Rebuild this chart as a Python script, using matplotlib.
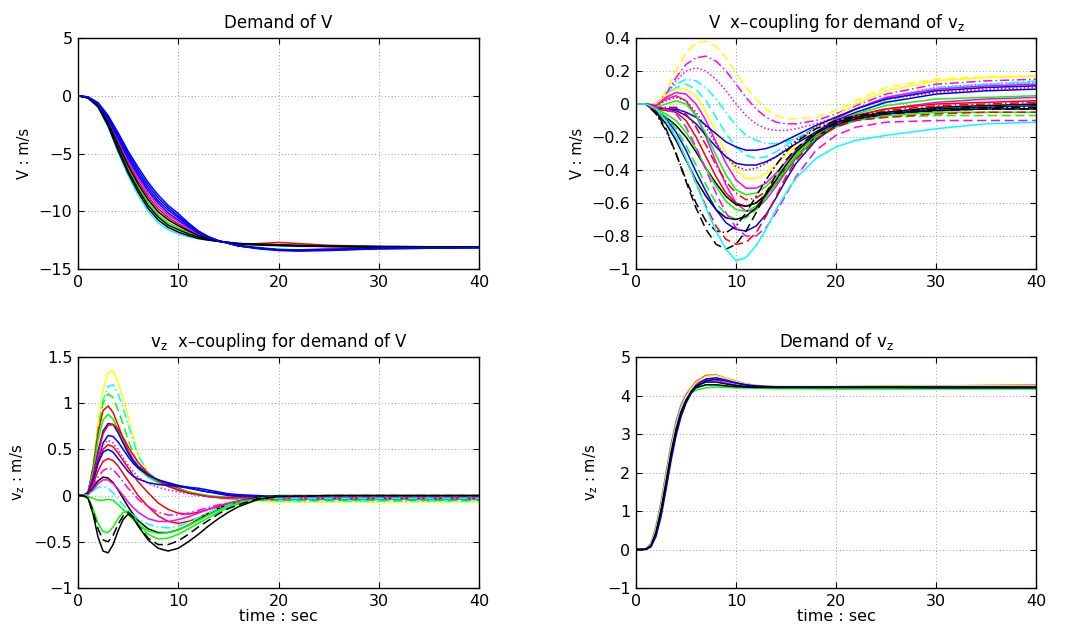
import matplotlib
matplotlib.use("Agg")
import matplotlib.pyplot as plt

plt.rcParams['font.family'] = ['DejaVu Sans']

# ---------------- Panel 1: Demand of V ----------------
t_v = [0, 1, 2, 3, 4, 5, 6, 7, 8, 9, 10, 11, 12, 13, 14, 16, 18, 20, 22, 25, 30, 40]
v_curves = [
    [0, -0.2, -1.0, -2.7, -4.9, -6.9, -8.6, -10.0, -11.0, -11.6, -11.95, -12.2, -12.4, -12.5, -12.6, -12.75, -12.85, -12.9, -12.95, -13.0, -13.05, -13.1],
    [0, -0.18, -0.88, -2.4, -4.4, -6.3, -7.9, -9.25, -10.3, -11.0, -11.45, -11.85, -12.2, -12.4, -12.6, -12.85, -12.95, -13.0, -13.05, -13.05, -13.1, -13.1],
    [0, -0.15, -0.8, -2.2, -4.05, -5.85, -7.4, -8.75, -9.8, -10.55, -11.1, -11.6, -12.05, -12.35, -12.6, -12.9, -12.8, -12.7, -12.8, -12.95, -13.05, -13.1],
    [0, -0.14, -0.76, -2.1, -3.9, -5.65, -7.15, -8.5, -9.55, -10.35, -10.9, -11.5, -12.0, -12.3, -12.55, -13.0, -13.2, -13.35, -13.35, -13.25, -13.15, -13.1],
    [0, -0.2, -0.96, -2.6, -4.75, -6.7, -8.35, -9.75, -10.75, -11.4, -11.8, -12.1, -12.35, -12.5, -12.6, -12.8, -12.9, -12.95, -13.0, -13.05, -13.1, -13.1],
    [0, -0.18, -0.92, -2.5, -4.55, -6.5, -8.1, -9.5, -10.5, -11.2, -11.6, -11.95, -12.25, -12.45, -12.6, -12.8, -12.85, -12.9, -12.95, -13.0, -13.05, -13.1],
    [0, -0.16, -0.84, -2.3, -4.2, -6.05, -7.65, -9.0, -10.05, -10.75, -11.25, -11.7, -12.1, -12.4, -12.6, -12.85, -12.9, -12.95, -13.0, -13.05, -13.1, -13.1],
    [0, -0.13, -0.72, -2.0, -3.7, -5.45, -6.9, -8.25, -9.3, -10.15, -10.75, -11.35, -11.9, -12.3, -12.55, -12.95, -13.15, -13.3, -13.35, -13.3, -13.2, -13.15],
    [0, -0.12, -0.68, -1.9, -3.55, -5.2, -6.7, -8.0, -9.1, -9.9, -10.55, -11.25, -11.85, -12.25, -12.55, -13.0, -13.2, -13.35, -13.4, -13.35, -13.2, -13.15],
    [0, -0.11, -0.64, -1.8, -3.35, -5.0, -6.45, -7.75, -8.85, -9.7, -10.4, -11.1, -11.75, -12.2, -12.55, -13.0, -13.2, -13.35, -13.4, -13.35, -13.25, -13.15],
    [0, -0.1, -0.6, -1.7, -3.2, -4.8, -6.2, -7.5, -8.6, -9.5, -10.2, -11.0, -11.7, -12.2, -12.55, -13.0, -13.25, -13.4, -13.45, -13.4, -13.25, -13.15],
]
v_colors = ['c', 'g', 'r', 'm', 'k', 'k', 'k', 'b', 'b', 'b', 'b']
v_styles = ['-', '-', '-', '-', '-', '-', '-', '-', '-', '-', '-']

# ---------------- Panel 2: V x-coupling for demand of vz ----------------
t_vx = [0, 1, 2, 3, 4, 5, 6, 7, 8, 9, 10, 11, 12, 13, 14, 15, 16, 18, 20, 22, 25, 30, 35, 40]
vx_curves = [
    [0, 0, 0.0, 0.08, 0.2, 0.31, 0.37, 0.38, 0.35, 0.28, 0.19, 0.1, 0.03, -0.03, -0.07, -0.09, -0.09, -0.08, -0.04, 0.02, 0.1, 0.15, 0.165, 0.17],
    [0, 0, 0.0, 0.06, 0.16, 0.24, 0.28, 0.29, 0.26, 0.2, 0.12, 0.04, -0.03, -0.08, -0.11, -0.12, -0.12, -0.1, -0.06, -0.01, 0.06, 0.12, 0.14, 0.15],
    [0, 0, 0.0, 0.05, 0.14, 0.2, 0.22, 0.2, 0.15, 0.08, 0.0, -0.07, -0.12, -0.15, -0.16, -0.16, -0.15, -0.12, -0.08, -0.03, 0.04, 0.1, 0.12, 0.13],
    [0, 0, 0.0, 0.05, 0.12, 0.15, 0.14, 0.1, 0.03, -0.05, -0.13, -0.19, -0.22, -0.24, -0.24, -0.23, -0.21, -0.17, -0.12, -0.06, 0.02, 0.09, 0.12, 0.14],
    [0, 0, 0.0, 0.04, 0.1, 0.12, 0.09, 0.02, -0.08, -0.18, -0.26, -0.31, -0.33, -0.32, -0.29, -0.25, -0.21, -0.14, -0.08, -0.03, 0.04, 0.1, 0.12, 0.13],
    [0, 0, 0.0, 0.05, 0.09, 0.09, 0.05, -0.05, -0.17, -0.3, -0.4, -0.45, -0.45, -0.42, -0.37, -0.31, -0.25, -0.15, -0.07, 0.0, 0.08, 0.14, 0.16, 0.17],
    [0, 0, -0.01, 0.04, 0.07, 0.06, 0.0, -0.1, -0.23, -0.36, -0.46, -0.51, -0.51, -0.48, -0.42, -0.35, -0.28, -0.17, -0.09, -0.03, 0.04, 0.09, 0.11, 0.12],
    [0, 0, -0.01, 0.03, 0.05, 0.02, -0.07, -0.2, -0.35, -0.49, -0.6, -0.65, -0.64, -0.58, -0.5, -0.41, -0.33, -0.2, -0.12, -0.07, -0.03, 0.01, 0.03, 0.04],
    [0, 0, -0.01, 0.02, 0.04, 0.02, -0.05, -0.14, -0.24, -0.32, -0.38, -0.4, -0.39, -0.36, -0.32, -0.27, -0.22, -0.14, -0.08, -0.03, 0.03, 0.07, 0.09, 0.1],
    [0, 0, -0.02, -0.03, -0.03, -0.05, -0.08, -0.13, -0.18, -0.23, -0.26, -0.28, -0.28, -0.27, -0.25, -0.22, -0.19, -0.13, -0.08, -0.03, 0.03, 0.08, 0.1, 0.11],
    [0, 0, -0.02, -0.03, -0.04, -0.07, -0.12, -0.19, -0.26, -0.32, -0.36, -0.37, -0.37, -0.35, -0.32, -0.28, -0.24, -0.17, -0.1, -0.05, 0.01, 0.06, 0.08, 0.09],
    [0, 0, -0.02, 0.0, 0.02, 0.0, -0.07, -0.18, -0.31, -0.43, -0.52, -0.55, -0.54, -0.5, -0.44, -0.37, -0.3, -0.19, -0.11, -0.06, -0.01, 0.03, 0.04, 0.05],
    [0, 0, -0.02, -0.02, -0.02, -0.06, -0.14, -0.25, -0.37, -0.47, -0.54, -0.58, -0.57, -0.53, -0.46, -0.39, -0.32, -0.21, -0.13, -0.08, -0.04, -0.01, 0.0, 0.01],
    [0, 0, -0.03, -0.04, -0.05, -0.1, -0.2, -0.32, -0.44, -0.54, -0.6, -0.62, -0.6, -0.55, -0.48, -0.4, -0.32, -0.2, -0.12, -0.07, -0.03, 0.0, 0.01, 0.02],
    [0, 0, -0.04, -0.08, -0.13, -0.2, -0.29, -0.39, -0.48, -0.56, -0.61, -0.62, -0.6, -0.55, -0.48, -0.4, -0.32, -0.2, -0.13, -0.09, -0.06, -0.04, -0.03, -0.03],
    [0, 0, -0.03, -0.06, -0.1, -0.17, -0.27, -0.39, -0.5, -0.59, -0.64, -0.65, -0.62, -0.56, -0.48, -0.4, -0.32, -0.21, -0.14, -0.1, -0.07, -0.05, -0.05, -0.05],
    [0, 0, -0.03, -0.08, -0.15, -0.25, -0.37, -0.49, -0.6, -0.67, -0.7, -0.69, -0.64, -0.57, -0.48, -0.39, -0.31, -0.2, -0.13, -0.1, -0.08, -0.07, -0.07, -0.07],
    [0, 0, -0.05, -0.12, -0.22, -0.34, -0.46, -0.56, -0.64, -0.69, -0.7, -0.68, -0.63, -0.55, -0.46, -0.37, -0.29, -0.18, -0.11, -0.08, -0.05, -0.02, -0.01, 0.0],
    [0, 0, -0.04, -0.09, -0.17, -0.28, -0.41, -0.53, -0.64, -0.72, -0.76, -0.77, -0.74, -0.67, -0.57, -0.46, -0.36, -0.22, -0.13, -0.09, -0.06, -0.03, -0.02, -0.01],
    [0, 0, -0.06, -0.16, -0.3, -0.46, -0.6, -0.71, -0.77, -0.78, -0.74, -0.66, -0.56, -0.46, -0.37, -0.29, -0.23, -0.15, -0.1, -0.07, -0.05, -0.03, -0.02, -0.02],
    [0, 0, -0.05, -0.15, -0.3, -0.47, -0.63, -0.76, -0.85, -0.88, -0.85, -0.77, -0.66, -0.54, -0.43, -0.34, -0.27, -0.17, -0.12, -0.09, -0.06, -0.04, -0.03, -0.03],
    [0, 0, -0.04, -0.1, -0.2, -0.33, -0.48, -0.62, -0.74, -0.82, -0.85, -0.84, -0.78, -0.68, -0.56, -0.44, -0.34, -0.21, -0.14, -0.1, -0.08, -0.06, -0.05, -0.05],
    [0, 0, -0.02, -0.03, -0.06, -0.14, -0.26, -0.4, -0.54, -0.66, -0.75, -0.8, -0.8, -0.75, -0.66, -0.55, -0.44, -0.28, -0.19, -0.14, -0.11, -0.1, -0.1, -0.1],
    [0, 0, -0.03, -0.1, -0.2, -0.33, -0.48, -0.63, -0.77, -0.88, -0.95, -0.93, -0.86, -0.76, -0.64, -0.54, -0.45, -0.33, -0.26, -0.22, -0.19, -0.15, -0.12, -0.11],
]
vx_colors = ['y', 'm', 'm', 'c', 'c', 'y', 'm', 'm', 'r', 'b', 'b', 'g', 'r', 'r', 'k', 'g', 'g', 'k', 'b', 'k', 'k', 'r', 'm', 'c']
vx_styles = ['--', '-.', ':', '-.', '--', '-', '-', '-', ':', '-', '-', '-', '-.', '-', '-', '-', '--', '-', '-', '-.', '--', '--', '--', '-']

# ---------------- Panel 3: vz x-coupling for demand of V ----------------
t_vzx = [0, 0.5, 1, 1.5, 2, 2.5, 3, 3.5, 4, 4.5, 5, 5.5, 6, 7, 8, 9, 10, 11, 12, 13, 14, 15, 16, 18, 20, 25, 30, 40]
vzx_curves = [
    [0, 0, 0.03, 0.3, 0.78, 1.15, 1.33, 1.35, 1.22, 1.05, 0.85, 0.65, 0.45, 0.25, 0.16, 0.1, 0.06, 0.03, 0.01, -0.01, -0.03, -0.04, -0.05, -0.06, -0.07, -0.07, -0.07, -0.07],
    [0, 0, 0.03, 0.27, 0.7, 1.03, 1.18, 1.2, 1.1, 0.95, 0.77, 0.6, 0.43, 0.25, 0.16, 0.1, 0.06, 0.03, 0.01, -0.01, -0.02, -0.03, -0.04, -0.05, -0.06, -0.06, -0.06, -0.06],
    [0, 0, 0.03, 0.3, 0.72, 1.0, 1.1, 1.06, 0.93, 0.77, 0.6, 0.46, 0.35, 0.22, 0.15, 0.1, 0.06, 0.03, 0.01, -0.01, -0.02, -0.03, -0.04, -0.05, -0.05, -0.05, -0.05, -0.05],
    [0, 0, 0.04, 0.3, 0.68, 0.92, 0.97, 0.9, 0.76, 0.62, 0.49, 0.39, 0.32, 0.23, 0.17, 0.12, 0.08, 0.04, 0.01, -0.01, -0.02, -0.03, -0.03, -0.04, -0.04, -0.04, -0.04, -0.04],
    [0, 0, 0.03, 0.25, 0.6, 0.82, 0.88, 0.83, 0.71, 0.58, 0.46, 0.36, 0.29, 0.2, 0.14, 0.1, 0.07, 0.04, 0.02, 0.0, -0.01, -0.02, -0.03, -0.04, -0.04, -0.04, -0.04, -0.04],
    [0, 0, 0.03, 0.2, 0.48, 0.7, 0.78, 0.77, 0.68, 0.57, 0.46, 0.38, 0.31, 0.22, 0.17, 0.14, 0.11, 0.09, 0.06, 0.04, 0.02, 0.0, -0.01, -0.02, -0.03, -0.03, -0.03, -0.03],
    [0, 0, 0.02, 0.18, 0.45, 0.67, 0.76, 0.77, 0.72, 0.63, 0.53, 0.44, 0.36, 0.24, 0.16, 0.1, 0.06, 0.03, 0.01, -0.01, -0.02, -0.02, -0.02, -0.02, -0.02, -0.02, -0.02, -0.02],
    [0, 0, 0.02, 0.15, 0.38, 0.57, 0.65, 0.64, 0.58, 0.5, 0.42, 0.35, 0.3, 0.22, 0.17, 0.13, 0.1, 0.08, 0.06, 0.04, 0.03, 0.01, 0.0, -0.01, -0.02, -0.02, -0.02, -0.02],
    [0, 0, 0.03, 0.18, 0.4, 0.55, 0.6, 0.57, 0.5, 0.41, 0.33, 0.26, 0.2, 0.13, 0.09, 0.06, 0.04, 0.02, 0.0, -0.01, -0.02, -0.03, -0.03, -0.04, -0.04, -0.04, -0.04, -0.04],
    [0, 0, 0.02, 0.15, 0.35, 0.5, 0.55, 0.53, 0.46, 0.38, 0.3, 0.22, 0.15, 0.03, -0.08, -0.15, -0.19, -0.2, -0.18, -0.15, -0.12, -0.09, -0.07, -0.04, -0.03, -0.02, -0.02, -0.02],
    [0, 0, 0.03, 0.16, 0.35, 0.47, 0.5, 0.47, 0.4, 0.33, 0.26, 0.21, 0.18, 0.14, 0.12, 0.11, 0.1, 0.09, 0.08, 0.06, 0.04, 0.02, 0.01, 0.0, -0.01, -0.01, -0.01, -0.01],
    [0, 0, 0.02, 0.12, 0.27, 0.37, 0.4, 0.38, 0.32, 0.24, 0.16, 0.08, 0.0, -0.12, -0.22, -0.28, -0.3, -0.28, -0.24, -0.19, -0.14, -0.1, -0.07, -0.04, -0.03, -0.02, -0.01, 0.0],
    [0, 0, 0.02, 0.1, 0.2, 0.27, 0.3, 0.28, 0.22, 0.15, 0.08, 0.02, -0.04, -0.12, -0.18, -0.21, -0.21, -0.19, -0.16, -0.13, -0.1, -0.08, -0.06, -0.04, -0.03, -0.02, -0.02, -0.02],
    [0, 0, 0.02, 0.08, 0.16, 0.2, 0.19, 0.14, 0.06, -0.03, -0.12, -0.2, -0.27, -0.36, -0.4, -0.4, -0.37, -0.32, -0.26, -0.2, -0.14, -0.1, -0.06, -0.02, 0.0, 0.0, 0.0, 0.0],
    [0, 0, 0.01, 0.06, 0.13, 0.17, 0.17, 0.13, 0.07, 0.0, -0.07, -0.13, -0.18, -0.25, -0.28, -0.28, -0.26, -0.23, -0.19, -0.15, -0.11, -0.08, -0.06, -0.03, -0.02, -0.02, -0.02, -0.02],
    [0, 0, 0.01, 0.05, 0.09, 0.1, 0.08, 0.03, -0.04, -0.1, -0.16, -0.21, -0.25, -0.31, -0.34, -0.35, -0.33, -0.29, -0.24, -0.19, -0.14, -0.1, -0.07, -0.04, -0.03, -0.03, -0.03, -0.03],
    [0, 0, -0.01, -0.03, -0.05, -0.05, -0.04, -0.05, -0.1, -0.15, -0.2, -0.26, -0.31, -0.38, -0.41, -0.4, -0.37, -0.32, -0.27, -0.21, -0.16, -0.11, -0.08, -0.03, -0.01, 0.0, 0.0, 0.0],
    [0, 0, -0.02, -0.14, -0.3, -0.39, -0.4, -0.34, -0.25, -0.18, -0.17, -0.22, -0.3, -0.42, -0.47, -0.46, -0.42, -0.36, -0.3, -0.24, -0.18, -0.13, -0.09, -0.03, -0.01, 0.0, 0.0, 0.0],
    [0, 0, -0.02, -0.17, -0.36, -0.48, -0.5, -0.43, -0.31, -0.22, -0.18, -0.23, -0.32, -0.46, -0.53, -0.53, -0.49, -0.42, -0.34, -0.27, -0.2, -0.14, -0.1, -0.03, -0.01, 0.0, 0.0, 0.0],
    [0, 0, -0.03, -0.2, -0.45, -0.6, -0.62, -0.53, -0.38, -0.26, -0.2, -0.24, -0.33, -0.48, -0.57, -0.6, -0.57, -0.5, -0.42, -0.33, -0.25, -0.18, -0.12, -0.04, -0.01, 0.0, 0.0, 0.0],
]
vzx_colors = ['y', 'c', 'g', 'r', 'g', 'b', 'r', 'b', 'm', 'r', 'b', 'r', 'm', 'k', 'm', 'c', 'g', 'g', 'k', 'k']
vzx_styles = ['-', '-.', '--', '-', '-', '-', '-', '-', ':', '-', '-', '-', '-.', '-', '-', '-.', '-', '-', '--', '-']

# ---------------- Panel 4: Demand of vz ----------------
t_vz = [0, 0.5, 1, 1.5, 2, 2.5, 3, 3.5, 4, 4.5, 5, 5.5, 6, 7, 8, 9, 10, 11, 12, 14, 16, 20, 25, 30, 40]
vz_curves = [
    [0, 0, 0.01, 0.12, 0.5, 1.1, 1.85, 2.6, 3.2, 3.65, 3.95, 4.2, 4.36, 4.52, 4.53, 4.45, 4.37, 4.3, 4.26, 4.23, 4.23, 4.23, 4.24, 4.25, 4.27],
    [0, 0, 0.02, 0.16, 0.6, 1.22, 1.98, 2.72, 3.32, 3.75, 4.02, 4.2, 4.32, 4.42, 4.4, 4.33, 4.27, 4.23, 4.22, 4.21, 4.21, 4.21, 4.21, 4.21, 4.21],
    [0, 0, 0.01, 0.14, 0.55, 1.15, 1.9, 2.65, 3.25, 3.7, 3.98, 4.14, 4.22, 4.27, 4.26, 4.23, 4.21, 4.2, 4.19, 4.18, 4.18, 4.18, 4.18, 4.18, 4.18],
    [0, 0, 0.01, 0.12, 0.5, 1.1, 1.85, 2.6, 3.2, 3.62, 3.9, 4.06, 4.14, 4.2, 4.22, 4.21, 4.2, 4.2, 4.19, 4.18, 4.18, 4.17, 4.17, 4.17, 4.17],
    [0, 0, 0.01, 0.12, 0.5, 1.1, 1.85, 2.6, 3.2, 3.65, 3.95, 4.18, 4.34, 4.5, 4.52, 4.45, 4.36, 4.3, 4.26, 4.23, 4.23, 4.23, 4.24, 4.25, 4.26],
    [0, 0, 0.005, 0.08, 0.38, 0.92, 1.65, 2.4, 3.02, 3.5, 3.83, 4.08, 4.26, 4.43, 4.46, 4.4, 4.33, 4.28, 4.25, 4.22, 4.22, 4.22, 4.22, 4.22, 4.22],
    [0, 0, 0.01, 0.1, 0.45, 1.02, 1.75, 2.5, 3.12, 3.58, 3.88, 4.08, 4.2, 4.28, 4.28, 4.25, 4.23, 4.22, 4.21, 4.21, 4.21, 4.21, 4.21, 4.21, 4.21],
    [0, 0, 0.005, 0.07, 0.34, 0.85, 1.55, 2.3, 2.95, 3.45, 3.8, 4.05, 4.22, 4.38, 4.42, 4.38, 4.32, 4.27, 4.24, 4.22, 4.22, 4.22, 4.22, 4.23, 4.23],
    [0, 0, 0.005, 0.09, 0.42, 0.98, 1.7, 2.45, 3.07, 3.55, 3.86, 4.1, 4.25, 4.35, 4.35, 4.3, 4.26, 4.23, 4.22, 4.21, 4.21, 4.21, 4.21, 4.2, 4.2],
]
vz_colors = ['r', 'm', 'c', 'g', 'y', 'b', 'k', 'b', 'k']
vz_styles = ['-', '-', '-', '-', '-', '-', '-', '-', '-']

# ---------------- Axis text / ticks ----------------
x_ticks = [0, 10, 20, 30, 40]
v_yticks = [-15, -10, -5, 0, 5]
vx_yticks = [-1, -0.8, -0.6, -0.4, -0.2, 0, 0.2, 0.4]
vx_yticklabels = ['\u22121', '\u22120.8', '\u22120.6', '\u22120.4', '\u22120.2', '0', '0.2', '0.4']
vzx_yticks = [-1, -0.5, 0, 0.5, 1, 1.5]
vzx_yticklabels = ['\u22121', '\u22120.5', '0', '0.5', '1', '1.5']
vz_yticks = [-1, 0, 1, 2, 3, 4, 5]

MATLAB = {'y': (1, 1, 0), 'm': (1, 0, 1), 'c': (0, 1, 1), 'r': (1, 0, 0),
          'g': (0, 1, 0), 'b': (0, 0, 1), 'k': (0, 0, 0)}
DASHES = {'-': '-', '--': (0, (6, 3)), ':': (0, (1, 1.5)), '-.': (0, (6, 2, 1, 2))}

fig = plt.figure(figsize=(10.66, 6.31), dpi=100)
W, H = 1066.0, 631.0

def make_ax(x0, y0, x1, y1):
    return fig.add_axes([x0 / W, 1 - y1 / H, (x1 - x0) / W, (y1 - y0) / H])

ax1 = make_ax(78, 38, 479, 269)
ax2 = make_ax(636, 38, 1036, 269)
ax3 = make_ax(78, 357, 479, 588)
ax4 = make_ax(636, 357, 1036, 588)

def draw(ax, t, curves, colors, styles):
    for c, col, st in zip(curves, colors, styles):
        ax.plot(t, c, color=MATLAB[col], linestyle=DASHES[st], linewidth=1.1)

draw(ax1, t_v, v_curves, v_colors, v_styles)
draw(ax2, t_vx, vx_curves, vx_colors, vx_styles)
draw(ax3, t_vzx, vzx_curves, vzx_colors, vzx_styles)
draw(ax4, t_vz, vz_curves, vz_colors, vz_styles)

def style(ax, yticks, ylabels, ylim, title, ylabel, xlabel=None):
    ax.set_xlim(0, 40)
    ax.set_ylim(*ylim)
    ax.set_xticks(x_ticks)
    ax.set_xticklabels([str(v) for v in x_ticks])
    ax.set_yticks(yticks)
    if ylabels is None:
        ylabels = [str(v).replace('-', '\u2212') for v in yticks]
    ax.set_yticklabels(ylabels)
    ax.grid(True, color='0.5', linestyle=(0, (1, 3)), linewidth=0.6)
    ax.tick_params(direction='in', length=4, width=0.8, top=True, right=True,
                   labelsize=11.5, pad=4)
    for s in ax.spines.values():
        s.set_linewidth(1.0)
    ax.set_title(title, fontsize=12, pad=7)
    ax.set_ylabel(ylabel, fontsize=10.5, labelpad=5)
    if xlabel:
        ax.set_xlabel(xlabel, fontsize=11.5, labelpad=0)

vz = 'v$_\\mathregular{z}$'
style(ax1, v_yticks, None, (-15, 5), 'Demand of V', 'V : m/s')
style(ax2, vx_yticks, vx_yticklabels, (-1, 0.4), 'V  x\u2013coupling for demand of ' + vz, 'V : m/s')
style(ax3, vzx_yticks, vzx_yticklabels, (-1, 1.5), vz + '  x\u2013coupling for demand of V', vz + ' : m/s', 'time : sec')
style(ax4, vz_yticks, None, (-1, 5), 'Demand of ' + vz, vz + ' : m/s', 'time : sec')

fig.savefig('out.png', dpi=100)
